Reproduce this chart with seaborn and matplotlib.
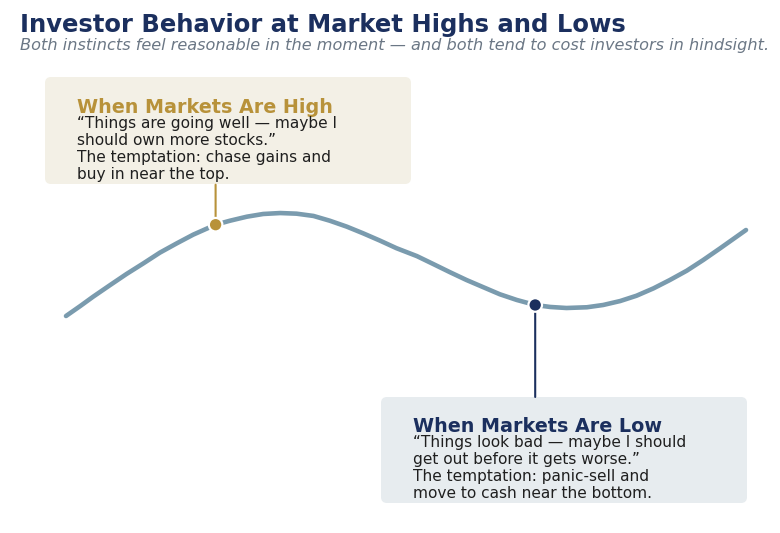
import matplotlib
matplotlib.use("Agg")
import matplotlib.pyplot as plt
import seaborn as sns
import pandas as pd
from matplotlib.patches import FancyBboxPatch

# ---- data ----
month = [0, 2.1, 4.0, 6.5, 8.9, 11.4, 13.8, 16.3, 18.7, 22.0, 24.1, 26.6,
         29.0, 31.5, 33.9, 36.4, 38.8, 41.3, 43.7, 46.2, 48.6, 51.6, 54.0,
         56.5, 58.9, 61.4, 63.8, 66.3, 69.0, 71.2, 73.6, 76.6, 79.0, 81.5,
         83.9, 86.4, 88.8, 91.3, 93.7, 96.2, 100]
level = [0, 9.6, 18.6, 29.8, 40.4, 50.7, 60.9, 69.9, 78.2, 87.8, 91.6, 95.5,
         98.1, 99.0, 98.4, 96.2, 91.6, 85.9, 79.5, 72.4, 65.2, 57.6, 50.0,
         42.0, 34.6, 27.6, 20.9, 15.4, 10.6, 8.7, 7.7, 8.4, 10.6, 14.4,
         19.5, 26.6, 34.6, 43.6, 53.8, 65.1, 82.7]
point_labels = ["High", "Low"]
point_month = [22.0, 69.0]
point_level = [87.8, 10.6]

title = "Investor Behavior at Market Highs and Lows"
subtitle = "Both instincts feel reasonable in the moment \u2014 and both tend to cost investors in hindsight."
high_title = "When Markets Are High"
high_lines = ["\u201cThings are going well \u2014 maybe I",
              "should own more stocks.\u201d",
              "The temptation: chase gains and",
              "buy in near the top."]
low_title = "When Markets Are Low"
low_lines = ["\u201cThings look bad \u2014 maybe I should",
             "get out before it gets worse.\u201d",
             "The temptation: panic-sell and",
             "move to cash near the bottom."]

NAVY = "#1B2F5E"
GOLD = "#B8923A"
CURVE = "#7A9BAE"
GREY = "#6B7785"
TEXT = "#1F1F1F"
HIGH_BG = "#F3F0E6"
LOW_BG = "#E7ECEF"

sns.set_theme(style="white")
plt.rcParams['font.family'] = ['DejaVu Sans']

W, H = 780, 533
fig = plt.figure(figsize=(W / 100, H / 100), dpi=100)
fig.patch.set_facecolor("white")

# overlay axes in pixel coordinates for layout (boxes, text)
lay = fig.add_axes([0, 0, 1, 1])
lay.set_xlim(0, W)
lay.set_ylim(H, 0)
lay.axis("off")

# main axes for the curve
ax = fig.add_axes([66 / W, 0, 680 / W, 1])
ax.set_xlim(0, 100)
ax.set_ylim(-208.65, 303.85)
ax.axis("off")
ax.patch.set_alpha(0)

df = pd.DataFrame({"month": month, "level": level})
sns.lineplot(data=df, x="month", y="level", ax=ax, color=CURVE, lw=3.3, zorder=2)
for ln in ax.lines:
    ln.set_solid_capstyle("round")
    ln.set_solid_joinstyle("round")
    ln.set_clip_on(False)

# connectors
ax.annotate("", xy=(point_month[0], point_level[0]), xycoords="data",
            xytext=(0, 40), textcoords="offset pixels",
            arrowprops=dict(arrowstyle="-", color=GOLD, lw=1.5, shrinkA=0, shrinkB=0),
            zorder=1)
ax.annotate("", xy=(point_month[1], point_level[1]), xycoords="data",
            xytext=(0, -92), textcoords="offset pixels",
            arrowprops=dict(arrowstyle="-", color=NAVY, lw=1.5, shrinkA=0, shrinkB=0),
            zorder=1)

pts = pd.DataFrame({"month": point_month, "level": point_level, "kind": point_labels})
sns.scatterplot(data=pts, x="month", y="level", hue="kind",
                palette={"High": GOLD, "Low": NAVY}, s=95, edgecolor="white",
                linewidth=1.6, ax=ax, legend=False, zorder=5)
ax.set_xlabel("")
ax.set_ylabel("")

# boxes
for (x0, y0, x1, y1, c) in [(45, 77, 411, 184, HIGH_BG), (381, 397, 747, 503, LOW_BG)]:
    lay.add_patch(FancyBboxPatch((x0, y0), x1 - x0, y1 - y0,
                                 boxstyle="round,pad=0,rounding_size=6",
                                 facecolor=c, edgecolor="none", zorder=0))

# titles
lay.text(20, 32, title, fontsize=17.5, fontweight="bold", color=NAVY, va="baseline", ha="left")
lay.text(20, 50, subtitle, fontsize=11.6, style="italic", color=GREY, va="baseline", ha="left")

# box texts
lay.text(77, 113, high_title, fontsize=13.8, fontweight="bold", color=GOLD, va="baseline")
for i, s in enumerate(high_lines):
    lay.text(77, 128 + 17 * i, s, fontsize=11.1, color=TEXT, va="baseline")

lay.text(413, 432, low_title, fontsize=13.8, fontweight="bold", color=NAVY, va="baseline")
for i, s in enumerate(low_lines):
    lay.text(413, 447 + 17 * i, s, fontsize=11.1, color=TEXT, va="baseline")

fig.savefig("out.png", dpi=100, facecolor="white")
